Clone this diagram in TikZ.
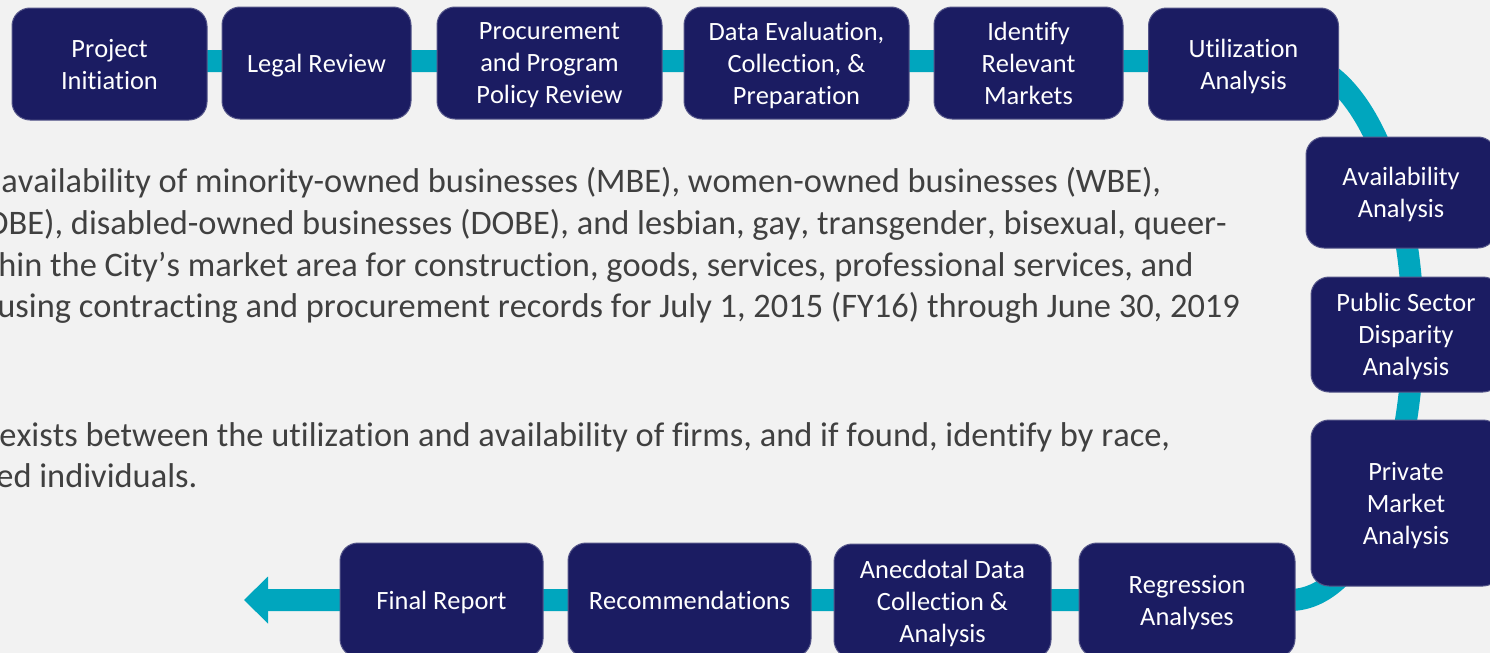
\documentclass[tikz,border=0pt]{standalone}
\usepackage{fontspec}
\setmainfont{Carlito}[Ligatures=NoCommon, Kerning=Off]
\usetikzlibrary{arrows.meta, positioning, backgrounds}
\definecolor{stepnavy}{HTML}{1B1C62}
\definecolor{bandteal}{HTML}{00A6BE}
\definecolor{pagegray}{HTML}{F2F2F2}
\definecolor{textgray}{HTML}{404040}

\begin{document}
\begin{tikzpicture}[
    x=0.5pt, y=-0.5pt,
    every node/.style={font=\fontsize{13.2}{16}\selectfont},
    box/.style={
        rectangle,
        rounded corners=9pt,
        draw=stepnavy!75!white,
        fill=stepnavy,
        line width=0.5pt,
        minimum height=56pt,
        inner sep=2pt,
        align=center,
        text depth=0pt,
        text=white
    },
    band/.style={
        draw=bandteal,
        line width=11pt
    },
    bodytext/.style={
        anchor=base west,
        inner sep=0pt,
        text=textgray,
        font=\fontsize{17.2}{20.7}\selectfont
    }
]
\useasboundingbox (0,0) rectangle (1490,653);
\clip (0,0) rectangle (1490,653);

% Turning points of the band
\coordinate (turntop) at (1290,61);
\coordinate (turnright) at (1413,330.5);
\coordinate (turnbot) at (1290,600);
\coordinate (tip) at (244,600);

% Top row
\node[box, minimum width=97.5pt] (init) at (109.5,64) {Project\\Initiation};
\node[box, minimum width=94.5pt] (legal) at (316.5,63) {Legal Review};
\node[box, minimum width=112.5pt] (procure) at (549.5,63) {Procurement\\and Program\\Policy Review};
\node[box, minimum width=112.5pt] (data) at (796.5,63) {Data Evaluation,\\Collection, \&\\Preparation};
\node[box, minimum width=94.5pt] (markets) at (1028.5,63) {Identify\\Relevant\\Markets};
\node[box, minimum width=95pt] (util) at (1243.5,64) {Utilization\\Analysis};

% Right column
\node[box, minimum width=95pt, minimum height=55.5pt] (avail) at (1401,192.5) {Availability\\Analysis};
\node[box, minimum width=95pt, minimum height=57.5pt] (public) at (1406,334.5) {Public Sector\\Disparity\\Analysis};
\node[box, minimum width=95pt, minimum height=83pt] (private) at (1406,503) {Private\\Market\\Analysis};

% Bottom row
\node[box, minimum width=101.5pt, minimum height=57pt] (final) at (441.5,600) {Final Report};
\node[box, minimum width=121.5pt, minimum height=57pt] (recomm) at (689.5,600) {Recommendations};
\node[box, minimum width=108.5pt, minimum height=57pt] (anec) at (942.5,601) {Anecdotal Data\\Collection \&\\Analysis};
\node[box, minimum width=108pt, minimum height=57pt] (regress) at (1187,600) {Regression\\Analyses};

% Body text
\node[bodytext] (line1) at (1,192) {availability of minority-owned businesses (MBE), women-owned businesses (WBE),};
\node[bodytext] (line2) at (-14.5,234) {OBE), disabled-owned businesses (DOBE), and lesbian, gay, transgender, bisexual, queer-};
\node[bodytext] (line3) at (-2,276) {hin the City’s market area for construction, goods, services, professional services, and};
\node[bodytext] (line4) at (-3,317) {using contracting and procurement records for July 1, 2015 (FY16) through June 30, 2019};
\node[bodytext] (line5) at (-1,446) {exists between the utilization and availability of firms, and if found, identify by race,};
\node[bodytext] (line6) at (-4,487) {ed individuals.};

% Band behind the boxes
\begin{scope}[on background layer]
\fill[pagegray] (0,0) rectangle (1490,653);
\draw[band, -{Triangle[length=12pt, width=23.5pt, line width=0pt]}]
    (init.center |- turntop) -- (turntop)
    .. controls (1357.9,61) and (1413,181.7) .. (turnright)
    .. controls (1413,479.3) and (1357.9,600) .. (turnbot) -- (tip);
\end{scope}

\end{tikzpicture}
\end{document}
